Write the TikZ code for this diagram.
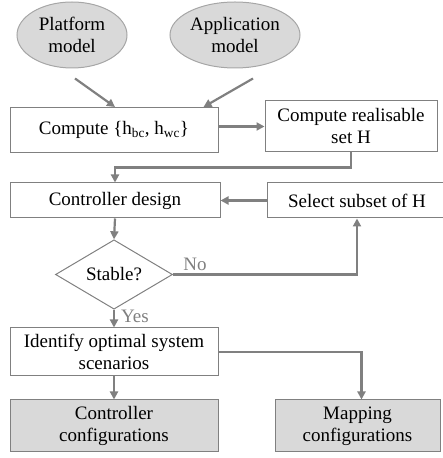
\documentclass[tikz,border=0pt]{standalone}
\usepackage{fontspec}
\setmainfont{Liberation Serif}
\usetikzlibrary{positioning,calc,shapes.geometric,arrows.meta}

\begin{document}
\begin{tikzpicture}[x=1pt,y=1pt,
  font=\fontsize{19}{22}\selectfont,
  every node/.style={align=center,inner sep=0pt},
  stepbox/.style={draw=gray,line width=1pt,rectangle},
  outbox/.style={stepbox,fill=black!15},
  model/.style={draw=black!35,line width=1pt,ellipse,fill=black!15},
  check/.style={draw=gray,line width=1pt,diamond},
  flow/.style={draw=gray,line width=2.2pt,-{Triangle[length=8pt,width=8pt]}},
  answer/.style={text=gray}]
 \useasboundingbox (0,0) rectangle (442,458);
 % inputs
 \node[model,minimum width=110,minimum height=66] at (72,423) (plat) {Platform\\model};
 \node[model,minimum width=130,minimum height=66] at (235,423) (app) {Application\\model};
 % design steps
 \node[stepbox,minimum width=208,minimum height=45] at (114,328) (hcomp) {Compute \{h\textsubscript{bc}, h\textsubscript{wc}\}};
 \node[stepbox,minimum width=172,minimum height=51] at (351,331.5) (hset) {Compute realisable\\set H};
 \node[stepbox,minimum width=210,minimum height=35] at (115,257.5) (ctrl) {Controller design};
 \node[stepbox,minimum width=180,minimum height=35] at (357,257.5) (sel) {Select subset of H};
 \node[check,minimum width=117,minimum height=61] at (114,183.5) (stab) {Stable?};
 \node[stepbox,minimum width=208,minimum height=48] at (114,106) (ident) {Identify optimal system\\scenarios};
 % outputs
 \node[outbox,minimum width=208,minimum height=52] at (114,32) (cconf) {Controller\\configurations};
 \node[outbox,minimum width=165,minimum height=52] at (357.5,32) (mconf) {Mapping\\configurations};
 %
 \draw[flow] ($(plat.south)+(3,-10)$) -- ($(hcomp.north)+(1,0)$);
 \draw[flow] ($(app.south)+(18,-10)$) -- ($(hcomp.north east)+(-15,0)$);
 \draw[flow] (hset.west -| hcomp.east) -- (hset.west);
 \draw[flow] (hset.south) |- ($(hset.south)!0.5!(ctrl.north)$) -| (ctrl.north);
 \draw[flow] (sel.west) -- (ctrl.east);
 \draw[flow] (ctrl.south) -- (stab.north);
 \draw[flow] (stab.east) -- node[answer,pos=0.12,above=3pt] {No} (stab.east -| sel.south) -- (sel.south);
 \draw[flow] (stab.south) -- node[answer,right=6pt,pos=0.4] {Yes} (ident.north);
 \draw[flow] (ident.south) -- (cconf.north);
 \draw[flow] (ident.east) -| ($(mconf.north)+(4,0)$);
\end{tikzpicture}
\end{document}
